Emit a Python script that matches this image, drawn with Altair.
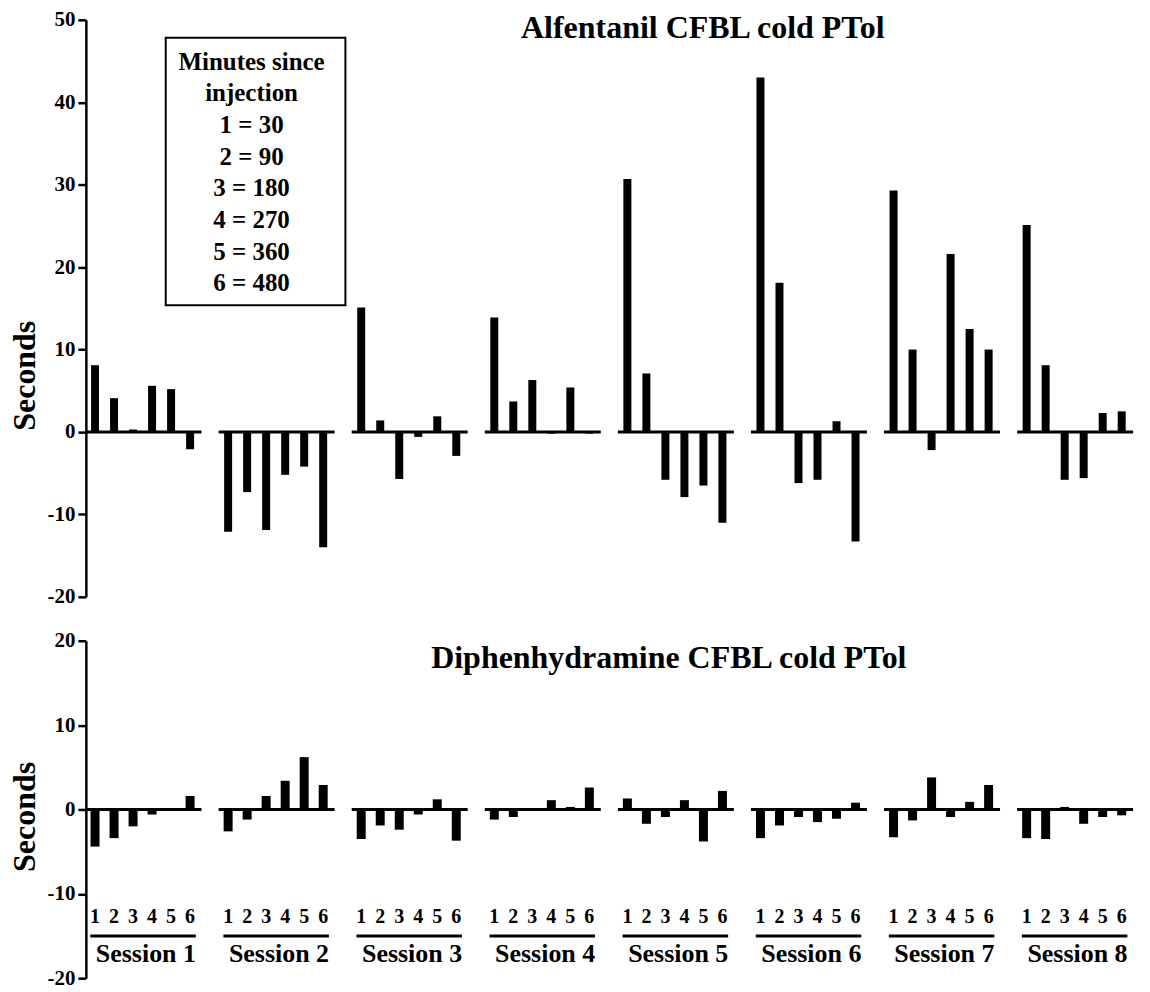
import altair as alt
import pandas as pd

# ---------------- data ----------------
sessions = ["Session 1", "Session 2", "Session 3", "Session 4",
            "Session 5", "Session 6", "Session 7", "Session 8"]
timepoints = [1, 2, 3, 4, 5, 6]

alfentanil = [
    [8.1, 4.1, 0.3, 5.6, 5.2, -2.1],
    [-12.1, -7.3, -11.9, -5.2, -4.2, -14.0],
    [15.1, 1.4, -5.7, -0.6, 1.9, -2.9],
    [13.9, 3.7, 6.3, -0.2, 5.4, -0.2],
    [30.7, 7.1, -5.8, -7.9, -6.5, -11.0],
    [43.0, 18.1, -6.2, -5.8, 1.3, -13.3],
    [29.3, 10.0, -2.2, 21.6, 12.5, 10.0],
    [25.1, 8.1, -5.8, -5.6, 2.3, 2.5],
]

diphenhydramine = [
    [-4.4, -3.4, -2.0, -0.6, 0.0, 1.6],
    [-2.6, -1.2, 1.6, 3.4, 6.2, 2.9],
    [-3.5, -1.9, -2.4, -0.6, 1.2, -3.7],
    [-1.2, -0.9, 0.0, 1.1, 0.3, 2.6],
    [1.3, -1.7, -0.9, 1.1, -3.8, 2.2],
    [-3.4, -1.9, -0.9, -1.5, -1.1, 0.8],
    [-3.3, -1.3, 3.8, -0.9, 0.9, 2.9],
    [-3.4, -3.5, 0.3, -1.7, -0.9, -0.7],
]

legend_lines = ["Minutes since", "injection", "1 = 30", "2 = 90",
                "3 = 180", "4 = 270", "5 = 360", "6 = 480"]
panel_titles = ["Alfentanil CFBL cold PTol", "Diphenhydramine CFBL cold PTol"]
top_ticks = [-20, -10, 0, 10, 20, 30, 40, 50]
bottom_ticks = [-20, -10, 0, 10, 20]

# ---------------- layout / style ----------------
FONT = "Liberation Serif"
PITCH = len(timepoints) + 1.0     # one empty slot between sessions
PLOT_W = 1056


def bar_table(values):
    rows = []
    for s, name in enumerate(sessions):
        for t, v in zip(timepoints, values[s]):
            rows.append({"session": name, "t": t, "slot": s * PITCH + t, "value": v})
    return pd.DataFrame(rows)


n = len(sessions)
seg = pd.DataFrame({
    "session": sessions,
    "start": [s * PITCH + timepoints[0] - 0.5 for s in range(n)],
    "end": [s * PITCH + timepoints[-1] + 0.6 for s in range(n)],
    "ustart": [s * PITCH + timepoints[0] - 0.25 for s in range(n)],
    "uend": [s * PITCH + timepoints[-1] + 0.3 for s in range(n)],
})
seg["mid"] = (seg["ustart"] + seg["uend"]) / 2 + 0.15

xscale = alt.Scale(domain=[0.78, float(seg["end"].max()) + 0.1], nice=False, zero=False)


def yaxis(ticks, title_y):
    return alt.Axis(values=ticks, labelExpr="'' + datum.value",
                    title="Seconds", titleX=-61, titleY=title_y, titleAngle=270,
                    titleAlign="center", titleBaseline="middle",
                    titleFont=FONT, titleFontSize=32, titleFontWeight="bold",
                    titleColor="black",
                    labelFont=FONT, labelFontSize=21, labelFontWeight="bold",
                    labelColor="black", labelPadding=3,
                    domainColor="black", domainWidth=2.5,
                    tickColor="black", tickWidth=2.5, tickSize=8, grid=False)


def panel(values, ydomain, ticks, title_y, bar_size, title, title_x, title_y_px):
    data = bar_table(values)
    y = alt.Y("value:Q", scale=alt.Scale(domain=ydomain, nice=False, zero=False),
              axis=yaxis(ticks, title_y))
    bars = alt.Chart(data).mark_bar(color="black", size=bar_size).encode(
        x=alt.X("slot:Q", scale=xscale, axis=None),
        y=y,
        y2=alt.datum(0),
    )
    zero = alt.Chart(seg).mark_rule(color="black", strokeWidth=3).encode(
        x=alt.X("start:Q", scale=xscale, axis=None),
        x2="end:Q",
        y=alt.datum(0),
    )
    ttl = alt.Chart(pd.DataFrame({"title": [title]})).mark_text(
        font=FONT, fontSize=32, fontWeight="bold", color="black",
        align="center", baseline="alphabetic",
    ).encode(text="title:N", x=alt.value(title_x), y=alt.value(title_y_px))
    return bars, zero, ttl, data


# ---- top panel ----
bars_t, zero_t, title_t, _ = panel(alfentanil, [-20, 50], top_ticks, 356, 8,
                                   panel_titles[0], 618, 18)
legend_df = pd.DataFrame({"k": [0]})
legend_box = alt.Chart(legend_df).mark_rect(
    fill="white", stroke="black", strokeWidth=2
).encode(x=alt.value(80), x2=alt.value(260), y=alt.value(18), y2=alt.value(286))
legend_txt = alt.Chart(legend_df).mark_text(
    font=FONT, fontSize=25, fontWeight="bold", color="black",
    align="center", baseline="alphabetic", lineHeight=31.7,
).encode(text=alt.value(legend_lines), x=alt.value(166), y=alt.value(50))

top = alt.layer(bars_t, zero_t, legend_box, legend_txt, title_t).properties(
    width=PLOT_W, height=578)

# ---- bottom panel ----
bars_b, zero_b, title_b, data_b = panel(diphenhydramine, [-20, 20], bottom_ticks, 176, 9,
                                        panel_titles[1], 584, 27)
nums = alt.Chart(data_b).mark_text(
    font=FONT, fontSize=20, fontWeight="bold", color="black",
    align="center", baseline="middle",
).encode(x=alt.X("slot:Q", scale=xscale, axis=None), y=alt.datum(-12.7), text="t:Q")
underline = alt.Chart(seg).mark_rule(color="black", strokeWidth=3).encode(
    x=alt.X("ustart:Q", scale=xscale, axis=None), x2="uend:Q", y=alt.datum(-15.0))
sess_lbl = alt.Chart(seg).mark_text(
    font=FONT, fontSize=26, fontWeight="bold", color="black",
    align="center", baseline="alphabetic",
).encode(x=alt.X("mid:Q", scale=xscale, axis=None), y=alt.datum(-18.1), text="session:N")

bottom = alt.layer(bars_b, zero_b, nums, underline, sess_lbl, title_b).properties(
    width=PLOT_W, height=338)

chart = alt.vconcat(top, bottom, spacing=44, bounds="flush").properties(
    padding={"left": 1, "top": 0, "right": 2, "bottom": 0},
    background="white",
).configure_view(stroke=None, strokeWidth=0)

chart.save("out.html", embed_options={"renderer": "svg", "actions": False})
